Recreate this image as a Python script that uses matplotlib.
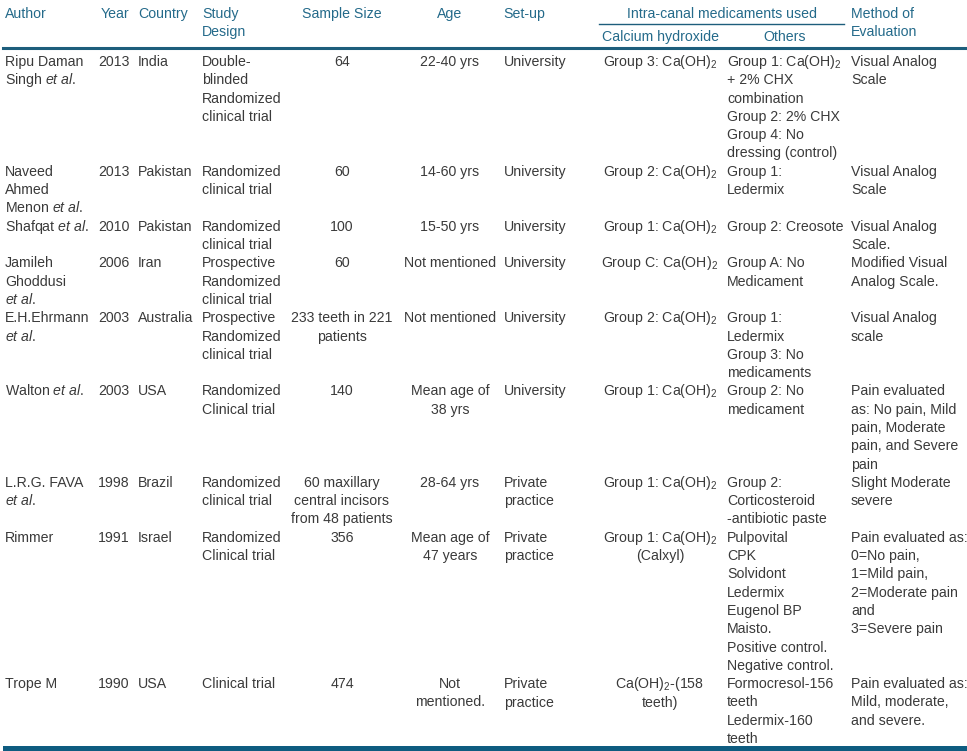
import matplotlib
matplotlib.use("Agg")
import matplotlib.pyplot as plt

plt.rcParams['font.family'] = ['Liberation Sans', 'DejaVu Sans']
plt.rcParams['mathtext.fontset'] = 'custom'
plt.rcParams['mathtext.rm'] = 'Liberation Sans'
plt.rcParams['mathtext.it'] = 'Liberation Sans:italic'

ET = r"$\mathit{et\ al.}$"
CA = r"Ca(OH)$_\mathrm{2}$"

authors = ["Ripu Daman\nSingh " + ET, "Naveed\nAhmed\nMenon " + ET, "Shafqat " + ET,
           "Jamileh\nGhoddusi\n" + ET, "E.H.Ehrmann\n" + ET, "Walton " + ET,
           "L.R.G. FAVA\n" + ET, "Rimmer", "Trope M"]
years = ["2013", "2013", "2010", "2006", "2003", "2003", "1998", "1991", "1990"]
countries = ["India", "Pakistan", "Pakistan", "Iran", "Australia", "USA", "Brazil", "Israel", "USA"]
designs = ["Double-\nblinded\nRandomized\nclinical trial", "Randomized\nclinical trial",
           "Randomized\nclinical trial", "Prospective\nRandomized\nclinical trial",
           "Prospective\nRandomized\nclinical trial", "Randomized\nClinical trial",
           "Randomized\nclinical trial", "Randomized\nClinical trial", "Clinical trial"]
samples = ["64", "60", "100", "60", "233 teeth in 221\npatients", "140",
           "60 maxillary\ncentral incisors\nfrom 48 patients", "356", "474"]
ages = ["22-40 yrs", "14-60 yrs", "15-50 yrs", "Not mentioned", "Not mentioned",
        "Mean age of\n38 yrs", "28-64 yrs", "Mean age of\n47 years", "Not\nmentioned."]
setups = ["University"] * 6 + ["Private\npractice"] * 3
calcium = ["Group 3: " + CA, "Group 2: " + CA, "Group 1: " + CA, "Group C: " + CA,
           "Group 2: " + CA, "Group 1: " + CA, "Group 1: " + CA,
           "Group 1: " + CA + "\n(Calxyl)", CA + "-(158\nteeth)"]
others = ["Group 1: " + CA + "\n+ 2% CHX\ncombination\nGroup 2: 2% CHX\nGroup 4: No\ndressing (control)",
          "Group 1:\nLedermix", "Group 2: Creosote", "Group A: No\nMedicament",
          "Group 1:\nLedermix\nGroup 3: No\nmedicaments", "Group 2: No\nmedicament",
          "Group 2:\nCorticosteroid\n-antibiotic paste",
          "Pulpovital\nCPK\nSolvidont\nLedermix\nEugenol BP\nMaisto.\nPositive control.\nNegative control.",
          "Formocresol-156\nteeth\nLedermix-160\nteeth"]
methods = ["Visual Analog\nScale", "Visual Analog\nScale", "Visual Analog\nScale.",
           "Modified Visual\nAnalog Scale.", "Visual Analog\nscale",
           "Pain evaluated\nas: No pain, Mild\npain, Moderate\npain, and Severe\npain",
           "Slight Moderate\nsevere",
           "Pain evaluated as:\n0=No pain,\n1=Mild pain,\n2=Moderate pain\nand\n3=Severe pain",
           "Pain evaluated as:\nMild, moderate,\nand severe."]

# column: (data, x, alignment)
columns = [(authors, 5, 'left'), (years, 98, 'left'), (countries, 138, 'left'),
           (designs, 202, 'left'), (samples, 342, 'center'), (ages, 450, 'center'),
           (setups, 504, 'left'), (calcium, 660, 'center'), (others, 727, 'left'),
           (methods, 851, 'left')]

HEAD = '#246a8a'
BODY = '#3a3a3a'
RULE = '#1d5e7c'
FS = 10.2
LH = 18.3
BASE = 5

fig = plt.figure(figsize=(9.67, 7.51), dpi=100)
ax = fig.add_axes([0, 0, 1, 1])
ax.set_xlim(0, 967)
ax.set_ylim(751, 0)
ax.axis('off')


def cell(x, y, txt, ha, color):
    for k, line in enumerate(txt.split("\n")):
        ax.text(x, y + k * LH + BASE, line, ha=ha, va='baseline', fontsize=FS, color=color)


# header
cell(5, 13, "Author", 'left', HEAD)
cell(101, 13, "Year", 'left', HEAD)
cell(138, 13, "Country", 'left', HEAD)
cell(202, 13, "Study\nDesign", 'left', HEAD)
cell(342, 13, "Sample Size", 'center', HEAD)
cell(450, 13, "Age", 'center', HEAD)
cell(503, 13, "Set-up", 'left', HEAD)
cell(722, 13, "Intra-canal medicaments used", 'center', HEAD)
cell(660, 36, "Calcium hydroxide", 'center', HEAD)
cell(785, 36, "Others", 'center', HEAD)
cell(851, 13, "Method of\nEvaluation", 'left', HEAD)
ax.plot([599, 844], [23.5, 23.5], color=RULE, lw=1.0)
ax.plot([3, 967], [47.7, 47.7], color=RULE, lw=2.2)

# body rows
y = 61
for i in range(len(authors)):
    nlines = max(col[0][i].count("\n") + 1 for col in columns)
    for data, x, ha in columns:
        cell(x, y, data[i], ha, BODY)
    y += nlines * LH

ax.add_patch(plt.Rectangle((3, 746), 964, 6, color='#0e5c80', lw=0))

fig.savefig("out.png", dpi=100)
